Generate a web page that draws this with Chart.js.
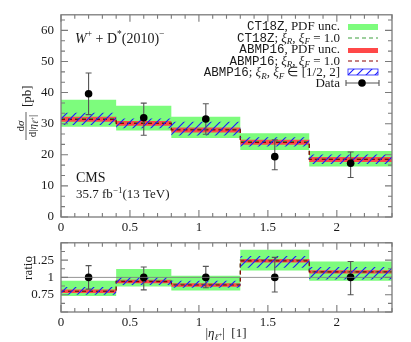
<!DOCTYPE html>
<html>
<head>
<meta charset="utf-8">
<script src="https://cdn.jsdelivr.net/npm/chart.js@4/dist/chart.umd.min.js"></script>
<style>
	html, body { margin: 0; padding: 0; background: #fff; }
	#wrap { position: relative; width: 411px; height: 342px; }
	canvas { position: absolute; left: 0; }
	#topChart { top: 0; }
	#ratioChart { top: 228px; }
</style>
</head>
<body>
<div id="wrap">
	<canvas id="topChart" width="411" height="240"></canvas>
	<canvas id="ratioChart" width="411" height="114"></canvas>
</div>
<script>
// bins in |eta|
const binEdges = [0, 0.4, 0.8, 1.3, 1.8, 2.4];
const dataX = [0.2, 0.6, 1.05, 1.55, 2.1];

// upper panel, pb
const dataXsec = [39.6, 31.9, 31.5, 19.4, 17.3];
const dataErrUp = [6.7, 4.7, 4.9, 5.4, 3.6];
const dataErrDown = [6.7, 5.6, 4.9, 4.2, 4.6];
const ct18zLo = [29.0, 27.8, 25.4, 21.5, 16.2];
const ct18zHi = [37.7, 35.8, 32.2, 26.9, 21.2];
const ct18zCentral = [31.6, 30.3, 28.2, 24.2, 18.6];
const abmpLo = [30.6, 29.3, 27.2, 23.2, 17.7];
const abmpHi = [32.2, 30.9, 28.8, 24.8, 19.3];
const abmpCentral = [31.4, 30.1, 28.0, 24.0, 18.5];
const abmpScaleLo = [29.6, 28.5, 26.2, 22.7, 17.0];
const abmpScaleHi = [33.5, 31.7, 30.6, 25.6, 20.1];

// ratio panel
const ratioData = [1, 1, 1, 1, 1];
const ratioErrUp = [0.17, 0.15, 0.16, 0.29, 0.23];
const ratioErrDown = [0.17, 0.18, 0.15, 0.21, 0.25];
const ratioCt18zLo = [0.73, 0.87, 0.81, 1.10, 0.95];
const ratioCt18zHi = [0.95, 1.12, 1.025, 1.40, 1.23];
const ratioCt18zCentral = [0.80, 0.95, 0.90, 1.25, 1.08];
const ratioAbmpLo = [0.775, 0.915, 0.865, 1.215, 1.055];
const ratioAbmpHi = [0.825, 0.965, 0.915, 1.265, 1.105];
const ratioAbmpCentral = [0.80, 0.94, 0.89, 1.24, 1.08];
const ratioScaleLo = [0.75, 0.89, 0.85, 1.14, 0.97];
const ratioScaleHi = [0.86, 1.0, 0.95, 1.31, 1.15];

// tick labels
const xTicks = [0, 0.5, 1, 1.5, 2];
const topYTicks = [0, 10, 20, 30, 40, 50, 60];
const ratioYTicks = [0.75, 1, 1.25];

const SERIF = '"Liberation Serif", serif';
const MONO = '"Liberation Mono", monospace';
const rm = (s) => s + "px " + SERIF;
const it = (s) => "italic " + s + "px " + SERIF;
const tt = (s) => s + "px " + MONO;

const GREEN = "#7dfc7d";
const RED = "#ff4848";
const GREEN_DASH = "#3f9f3f";
const RED_DASH = "#8b0000";
const BLUE = "#1a1aff";

function hatchPattern() {
	const c = document.createElement("canvas");
	c.width = 9;
	c.height = 9;
	const g = c.getContext("2d");
	g.strokeStyle = BLUE;
	g.lineWidth = 1.1;
	g.beginPath();
	g.moveTo(0, 9); g.lineTo(9, 0);
	g.moveTo(-3, 3); g.lineTo(3, -3);
	g.moveTo(6, 12); g.lineTo(12, 6);
	g.stroke();
	return g.createPattern(c, "repeat");
}
const HATCH = hatchPattern();

// one point per bin edge, last value repeated at the right edge
function steps(values) {
	return binEdges.map((x, i) => ({ x, y: values[Math.min(i, values.length - 1)] }));
}

function drawRich(ctx, parts, x, y, align) {
	let w = 0;
	parts.forEach((p) => { ctx.font = p.f; p.w = ctx.measureText(p.t).width; w += p.w; });
	let cx = align === "right" ? x - w : align === "center" ? x - w / 2 : x;
	ctx.textAlign = "left";
	ctx.textBaseline = "alphabetic";
	parts.forEach((p) => { ctx.font = p.f; ctx.fillText(p.t, cx, y + (p.dy || 0)); cx += p.w; });
}

function bandSets(lo, hi, color, order) {
	const hidden = { borderWidth: 0, borderColor: "transparent", pointRadius: 0, stepped: "before", fill: false, order };
	return [
		Object.assign({ data: steps(lo) }, hidden),
		Object.assign({}, hidden, { data: steps(hi), fill: "-1", backgroundColor: color })
	];
}

function buildDatasets(s) {
	return [
		...bandSets(s.greenLo, s.greenHi, GREEN, 10),
		...bandSets(s.redLo, s.redHi, RED, 8),
		{ data: steps(s.greenC), borderColor: GREEN_DASH, borderWidth: 1.2, borderDash: [4, 3], pointRadius: 0, stepped: "before", fill: false, order: 7 },
		{ data: steps(s.redC), borderColor: RED_DASH, borderWidth: 1.2, borderDash: [4, 3], pointRadius: 0, stepped: "before", fill: false, order: 6 },
		...bandSets(s.hatchLo, s.hatchHi, HATCH, 5),
		{
			data: dataX.map((x, i) => ({ x, y: s.points[i] })),
			showLine: false, pointRadius: 3.8, pointBackgroundColor: "#000", pointBorderWidth: 0, order: 1
		}
	];
}

// error bars, drawn right before the data markers
const errorBarPlugin = {
	id: "errorBars",
	beforeDatasetDraw(chart, args, opts) {
		if (args.index !== 8) return;
		const { ctx, scales: { x, y } } = chart;
		ctx.save();
		ctx.strokeStyle = "#555";
		ctx.lineWidth = 1.1;
		dataX.forEach((xv, i) => {
			const px = x.getPixelForValue(xv);
			const top = y.getPixelForValue(opts.values[i] + opts.up[i]);
			const bot = y.getPixelForValue(opts.values[i] - opts.down[i]);
			ctx.beginPath();
			ctx.moveTo(px, top); ctx.lineTo(px, bot);
			ctx.moveTo(px - 3, top); ctx.lineTo(px + 3, top);
			ctx.moveTo(px - 3, bot); ctx.lineTo(px + 3, bot);
			ctx.stroke();
		});
		ctx.restore();
	}
};

// frame with inward ticks on all sides
const framePlugin = {
	id: "frame",
	afterDatasetsDraw(chart, args, opts) {
		const { ctx, chartArea: a, scales: { x, y } } = chart;
		ctx.save();
		ctx.strokeStyle = "#7a7a7a";
		if (opts.refLine !== undefined) {
			ctx.lineWidth = 0.8;
			const py = y.getPixelForValue(opts.refLine);
			ctx.beginPath(); ctx.moveTo(a.left, py); ctx.lineTo(a.right, py); ctx.stroke();
		}
		ctx.lineWidth = 1.1;
		ctx.beginPath();
		const xMinor = 0.5 / 5;
		for (let k = 0; k * xMinor <= x.max + 1e-9; k++) {
			const px = x.getPixelForValue(k * xMinor);
			const len = k % 5 === 0 ? 7 : 4;
			ctx.moveTo(px, a.bottom); ctx.lineTo(px, a.bottom - len);
			ctx.moveTo(px, a.top); ctx.lineTo(px, a.top + len);
		}
		const yMinor = opts.yMajor / opts.ySub;
		for (let k = Math.ceil(y.min / yMinor - 1e-9); k * yMinor <= y.max + 1e-9; k++) {
			const py = y.getPixelForValue(k * yMinor);
			const len = k % opts.ySub === 0 ? 7 : 4;
			ctx.moveTo(a.left, py); ctx.lineTo(a.left + len, py);
			ctx.moveTo(a.right, py); ctx.lineTo(a.right - len, py);
		}
		ctx.stroke();
		ctx.lineWidth = 1.3;
		ctx.strokeRect(a.left, a.top, a.right - a.left, a.bottom - a.top);
		ctx.restore();
	}
};

function xiParts(tail) {
	return [
		{ t: ";", f: rm(13) }, { t: " ξ", f: it(13) }, { t: "R", f: it(9), dy: 2.5 },
		{ t: ", ", f: rm(13) }, { t: "ξ", f: it(13) }, { t: "F", f: it(9), dy: 2.5 },
		{ t: tail, f: rm(13) }
	];
}

const topTextPlugin = {
	id: "topText",
	afterDraw(chart) {
		const ctx = chart.ctx;
		ctx.save();
		ctx.fillStyle = "#1a1a1a";

		drawRich(ctx, [
			{ t: "W", f: it(14) }, { t: "+", f: rm(9.5), dy: -6 },
			{ t: " + D", f: rm(14) }, { t: "*", f: rm(9.5), dy: -6 },
			{ t: "(2010)", f: rm(14) }, { t: "−", f: rm(9.5), dy: -6 }
		], 75, 43, "left");
		drawRich(ctx, [{ t: "CMS", f: rm(14) }], 76, 182, "left");
		drawRich(ctx, [
			{ t: "35.7 fb", f: rm(13) }, { t: "−1", f: rm(9), dy: -5 }, { t: "(13 TeV)", f: rm(13) }
		], 76, 198, "left");

		// legend
		const tx = 340;
		drawRich(ctx, [{ t: "CT18Z", f: tt(12.5) }, { t: ", PDF unc.", f: rm(13) }], tx, 30, "right");
		drawRich(ctx, [{ t: "CT18Z", f: tt(12.5) }, ...xiParts(" = 1.0")], tx, 41.5, "right");
		drawRich(ctx, [{ t: "ABMP16", f: tt(12.5) }, { t: ", PDF unc.", f: rm(13) }], tx, 53, "right");
		drawRich(ctx, [{ t: "ABMP16", f: tt(12.5) }, ...xiParts(" = 1.0")], tx, 64.5, "right");
		drawRich(ctx, [{ t: "ABMP16", f: tt(12.5) }, ...xiParts(" ∈ [1/2, 2]")], tx, 76, "right");
		drawRich(ctx, [{ t: "Data", f: rm(13) }], tx, 87, "right");

		const sx = 348, sw = 30;
		ctx.fillStyle = GREEN;
		ctx.fillRect(sx, 24, sw, 6);
		ctx.fillStyle = RED;
		ctx.fillRect(sx, 48, sw, 5);
		ctx.fillStyle = HATCH;
		ctx.fillRect(sx, 69, sw, 6);
		ctx.strokeStyle = BLUE;
		ctx.lineWidth = 0.8;
		ctx.strokeRect(sx, 69, sw, 6);
		ctx.lineWidth = 1.2;
		ctx.setLineDash([4, 3]);
		ctx.strokeStyle = GREEN_DASH;
		ctx.beginPath(); ctx.moveTo(sx, 38); ctx.lineTo(sx + sw, 38); ctx.stroke();
		ctx.strokeStyle = RED_DASH;
		ctx.beginPath(); ctx.moveTo(sx, 61); ctx.lineTo(sx + sw, 61); ctx.stroke();
		ctx.setLineDash([]);
		ctx.strokeStyle = "#555";
		ctx.lineWidth = 1.1;
		ctx.beginPath();
		ctx.moveTo(sx - 2, 83); ctx.lineTo(sx + sw + 1, 83);
		ctx.moveTo(sx - 2, 80); ctx.lineTo(sx - 2, 86);
		ctx.moveTo(sx + sw + 1, 80); ctx.lineTo(sx + sw + 1, 86);
		ctx.stroke();
		ctx.fillStyle = "#000";
		ctx.beginPath(); ctx.arc(362, 83, 3.8, 0, Math.PI * 2); ctx.fill();

		// y title
		ctx.fillStyle = "#1a1a1a";
		ctx.translate(26, 126);
		ctx.rotate(-Math.PI / 2);
		drawRich(ctx, [{ t: "d", f: rm(11) }, { t: "σ", f: it(11) }], 0, -2.5, "center");
		ctx.strokeStyle = "#1a1a1a";
		ctx.lineWidth = 0.7;
		ctx.beginPath(); ctx.moveTo(-14, 0); ctx.lineTo(14, 0); ctx.stroke();
		drawRich(ctx, [
			{ t: "d|", f: rm(11) }, { t: "η", f: it(11) }, { t: "ℓ", f: it(8), dy: 2.5 },
			{ t: "+", f: rm(6.5), dy: -0.5 }, { t: "|", f: rm(11) }
		], 0, 9.5, "center");
		drawRich(ctx, [{ t: "[pb]", f: rm(13) }], 19, 5, "left");
		ctx.restore();
	}
};

const ratioTextPlugin = {
	id: "ratioText",
	afterDraw(chart) {
		const ctx = chart.ctx;
		ctx.save();
		ctx.fillStyle = "#1a1a1a";
		drawRich(ctx, [
			{ t: "|", f: rm(13) }, { t: "η", f: it(13) }, { t: "ℓ", f: it(9), dy: 3 },
			{ t: "+", f: rm(7), dy: 0 }, { t: "|  [1]", f: rm(13) }
		], 226, 109, "center");
		ctx.translate(27, 268 - 228);
		ctx.rotate(-Math.PI / 2);
		drawRich(ctx, [{ t: "ratio", f: rm(13) }], 0, 5, "center");
		ctx.restore();
	}
};

function makeChart(canvas, cfg) {
	return new Chart(canvas, {
		type: "line",
		data: { datasets: buildDatasets(cfg.series) },
		plugins: [errorBarPlugin, framePlugin, cfg.textPlugin],
		options: {
			responsive: false,
			animation: false,
			devicePixelRatio: 1,
			layout: { padding: { top: cfg.padTop, right: 19, left: 0, bottom: 0 } },
			plugins: {
				legend: { display: false },
				tooltip: { enabled: false },
				errorBars: cfg.errors,
				frame: cfg.frame
			},
			scales: {
				x: {
					type: "linear",
					min: 0,
					max: 2.4,
					afterBuildTicks: (s) => { s.ticks = xTicks.map((v) => ({ value: v })); },
					afterFit: (s) => { s.height = cfg.xHeight; },
					ticks: { font: { family: SERIF, size: 13 }, color: "#1a1a1a", padding: 3, maxRotation: 0, callback: (v) => String(v) },
					grid: { display: false, drawTicks: false },
					border: { display: false }
				},
				y: {
					min: cfg.yMin,
					max: cfg.yMax,
					afterBuildTicks: (s) => { s.ticks = cfg.yTicks.map((v) => ({ value: v })); },
					afterFit: (s) => { s.width = 61; },
					ticks: { font: { family: SERIF, size: 13 }, color: "#1a1a1a", padding: 7, callback: (v) => String(v) },
					grid: { display: false, drawTicks: false },
					border: { display: false }
				}
			}
		}
	});
}

makeChart(document.getElementById("topChart"), {
	series: {
		greenLo: ct18zLo, greenHi: ct18zHi, greenC: ct18zCentral,
		redLo: abmpLo, redHi: abmpHi, redC: abmpCentral,
		hatchLo: abmpScaleLo, hatchHi: abmpScaleHi, points: dataXsec
	},
	errors: { values: dataXsec, up: dataErrUp, down: dataErrDown },
	frame: { yMajor: 10, ySub: 3 },
	textPlugin: topTextPlugin,
	padTop: 12,
	xHeight: 23,
	yMin: 0,
	yMax: 65,
	yTicks: topYTicks
});

makeChart(document.getElementById("ratioChart"), {
	series: {
		greenLo: ratioCt18zLo, greenHi: ratioCt18zHi, greenC: ratioCt18zCentral,
		redLo: ratioAbmpLo, redHi: ratioAbmpHi, redC: ratioAbmpCentral,
		hatchLo: ratioScaleLo, hatchHi: ratioScaleHi, points: ratioData
	},
	errors: { values: ratioData, up: ratioErrUp, down: ratioErrDown },
	frame: { yMajor: 0.25, ySub: 2, refLine: 1 },
	textPlugin: ratioTextPlugin,
	padTop: 6,
	xHeight: 30,
	yMin: 0.5,
	yMax: 1.5,
	yTicks: ratioYTicks
});
</script>
</body>
</html>
